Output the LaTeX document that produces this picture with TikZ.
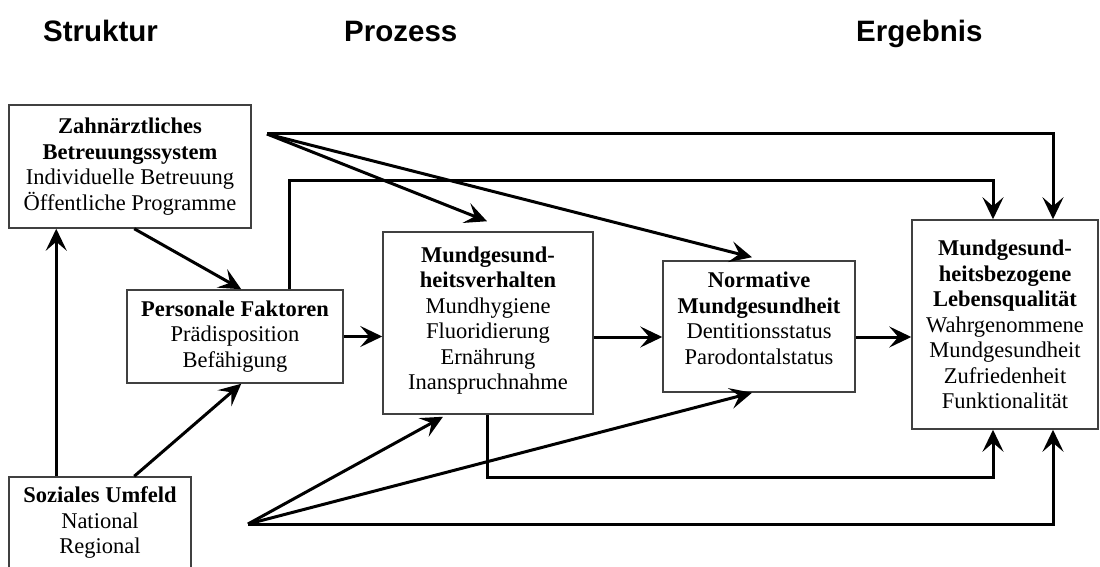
\documentclass[tikz,border=0pt]{standalone}
\usepackage{fontspec}
\setmainfont{Liberation Serif}
\newfontfamily\titlefont{Liberation Sans}
\usetikzlibrary{arrows.meta,calc}
\definecolor{boxgray}{HTML}{404040}
\tikzset{
  box/.style={draw=boxgray, line width=1.5pt, rectangle, align=center, inner sep=0pt,
    font=\fontsize{22.5}{25.5}\selectfont},
  conn/.style={line width=3pt, draw=black},
  arr/.style={conn, -{Stealth[length=22pt,width=21pt,inset=9pt]}},
  ttl/.style={font=\titlefont\bfseries\fontsize{29.5}{32}\selectfont, anchor=base west, inner sep=0pt}
}
\begin{document}
\begin{tikzpicture}[x=1pt,y=-1pt]
\useasboundingbox (0,0) rectangle (1100,567);
% titles
\node[ttl] (t1) at (43,42) {Struktur};
\node[ttl] (t2) at (344,42) {Prozess};
\node[ttl] (t3) at (856,42) {Ergebnis};
% boxes
\node[box, minimum width=242pt, minimum height=123pt] (zahn) at (130,166.5)
  {\textbf{Zahnärztliches}\\\textbf{Betreuungssystem}\\Individuelle Betreuung\\Öffentliche Programme};
\node[box, minimum width=216pt, minimum height=93pt] (pers) at (235,336.5)
  {\textbf{Personale Faktoren}\\Prädisposition\\Befähigung};
\node[box, minimum width=210pt, minimum height=182pt, text depth=10pt] (mund) at (488,323)
  {\textbf{Mundgesund-}\\\textbf{heitsverhalten}\\Mundhygiene\\Fluoridierung\\Ernährung\\Inanspruchnahme};
\node[box, minimum width=192pt, minimum height=131pt, text depth=17pt] (norm) at (759,326.5)
  {\textbf{Normative}\\\textbf{Mundgesundheit}\\Dentitionsstatus\\Parodontalstatus};
\node[box, minimum width=186pt, minimum height=209pt] (leb) at (1005,324.5)
  {\textbf{Mundgesund-}\\\textbf{heitsbezogene}\\\textbf{Lebensqualität}\\Wahrgenommene\\Mundgesundheit\\Zufriedenheit\\Funktionalität};
\node[box, minimum width=182pt, minimum height=92pt] (soz) at (100,523)
  {\textbf{Soziales Umfeld}\\National\\Regional};
% fan points
\coordinate (f1) at (267,134);
\coordinate (f2) at (248,524);
% connectors
\draw[arr] ([xshift=48pt]soz.north west) -- ([xshift=48pt]zahn.south west);
\draw[arr] ([xshift=126pt]zahn.south west) -- ([xshift=115pt]pers.north west);
\draw[arr] ([xshift=126pt]soz.north west) -- ([xshift=115pt]pers.south west);
\draw[arr] (pers.east) -- (pers.east -| mund.west);
\draw[arr] ([yshift=-14pt]mund.east) -- ([yshift=-14pt]mund.east -| norm.west);
\draw[arr] ([yshift=-10.5pt]norm.east) -- ([yshift=-10.5pt]norm.east -| leb.west);
% fan from Zahnaerztliches
\draw[arr] (f1) -- ([xshift=-1pt,yshift=10pt]mund.north);
\draw[arr] (f1) -- ([xshift=-7pt,yshift=3pt]norm.north);
\draw[arr] (f1) -| ([xshift=48pt]leb.north);
% from Personale Faktoren
\draw[arr] ([xshift=163pt]pers.north west) -- ++(0,-109) -| ([xshift=-12pt]leb.north);
% from Mundgesundheitsverhalten
\draw[arr] ([xshift=-1pt]mund.south) -- ++(0,63) -| ([xshift=-12pt]leb.south);
% fan from Soziales Umfeld
\draw[arr] (f2) -- ([xshift=-45pt,yshift=-2pt]mund.south);
\draw[arr] (f2) -- ([xshift=-7pt]norm.south);
\draw[arr] (f2) -| ([xshift=48pt]leb.south);
\end{tikzpicture}
\end{document}
